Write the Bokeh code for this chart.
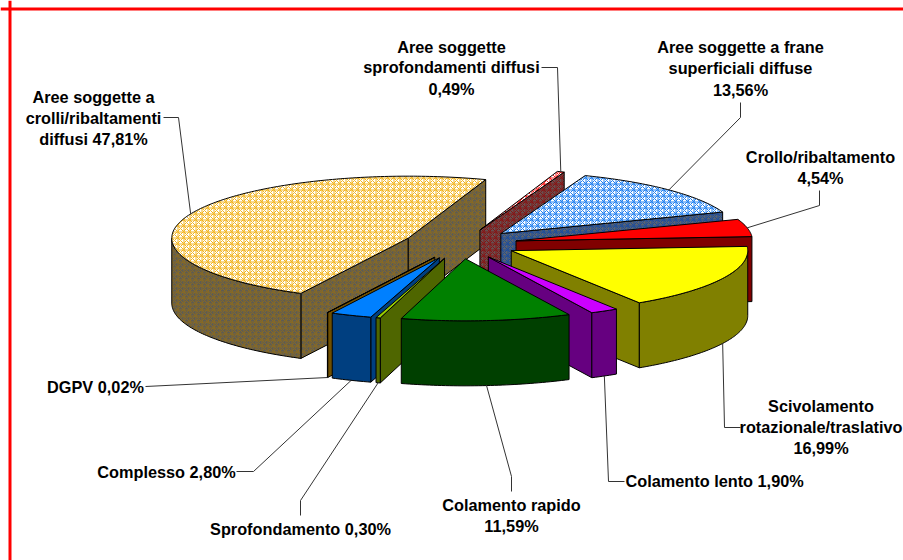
import math
from bokeh.plotting import figure
from bokeh.models import ColumnDataSource, Range1d, Span
from bokeh.core.properties import value
from bokeh.embed import file_html
from bokeh.resources import INLINE

# ---------- data ----------
names = ["Aree soggette a crolli/ribaltamenti diffusi", "Aree soggette sprofondamenti diffusi",
         "Aree soggette a frane superficiali diffuse", "Crollo/ribaltamento",
         "Scivolamento rotazionale/traslativo", "Colamento lento", "Colamento rapido",
         "Sprofondamento", "Complesso", "DGPV"]
percent = [47.81, 0.49, 13.56, 4.54, 16.99, 1.90, 11.59, 0.30, 2.80, 0.02]
top_color = ["#FFFFFF", "#FFFFFF", "#FFFFFF", "#FF0000", "#FFFF00", "#CC00FF", "#008000", "#99CC00", "#0080FF", "#806000"]
side_color = ["#5E5C54", "#665050", "#5C646E", "#800000", "#808000", "#660080", "#004000", "#4F6600", "#003F80", "#705000"]
top_hatch = ["#F2B41E", "#FF1A1A", "#2080F0", None, None, None, None, None, None, None]
side_hatch = ["#8A6A20", "#861414", "#1C4C9C", None, None, None, None, None, None, None]
label_lines = [
    ["Aree soggette a", "crolli/ribaltamenti", "diffusi 47,81%"],
    ["Aree soggette", "sprofondamenti diffusi", "0,49%"],
    ["Aree soggette a frane", "superficiali diffuse", "13,56%"],
    ["Crollo/ribaltamento", "4,54%"],
    ["Scivolamento", "rotazionale/traslativo", "16,99%"],
    ["Colamento lento 1,90%"],
    ["Colamento rapido", "11,59%"],
    ["Sprofondamento 0,30%"],
    ["Complesso 2,80%"],
    ["DGPV 0,02%"],
]

# ---------- layout ----------
CX, CY, RX, RY, DEPTH, EXPLODE, START = 460.0, 243.5, 236.5, 62.0, 65.0, 0.24, 207.0
PAINT_ORDER = [0, 1, 2, 3, 4, 9, 8, 7, 5, 6]
label_x = [93, 451, 740, 820, 820.5, 625, 511, 300, 166, 95]
label_y = [[96, 117, 138], [46, 66, 88], [46, 67, 89], [156, 177], [405, 426, 447],
           [480], [504, 525], [528], [471], [386]]
label_align = ["center"] * 5 + ["left"] + ["center"] * 4
leader_tail = [[(178, 117), (163, 117)], [(557, 67), (541, 67)], [(740, 117), (740, 102)],
               [(819, 205), (819, 190)], [(724, 427), (740, 427)], [(608, 481), (624, 481)],
               [(511, 476), (511, 491)], [(300, 500), (300, 515)], [(253, 471), (236, 471)],
               [(145, 386)]]

p = figure(width=903, height=560, output_backend="svg", toolbar_location=None,
           x_axis_type=None, y_axis_type=None, min_border=0, outline_line_color=None,
           x_range=Range1d(0, 903), y_range=Range1d(560, 0))
p.grid.visible = False

spans = [v * 3.6 for v in percent]
bounds = []
a = START
for s in spans:
    bounds.append((a, a + s))
    a += s


def point(i, theta, r=1.0, z=0.0):
    t = math.radians(theta)
    m = math.radians(sum(bounds[i]) / 2)
    return (CX + RX * (r * math.sin(t) + EXPLODE * math.sin(m)),
            CY - RY * (r * math.cos(t) + EXPLODE * math.cos(m)) + z)


def arc(i, t0, t1):
    n = max(2, int(abs(t1 - t0)) + 2)
    return [point(i, t0 + (t1 - t0) * k / (n - 1)) for k in range(n)]


polys = {k: [] for k in ("xs", "ys", "fill", "hatch", "hcol")}


def add(pts, fill, hcol):
    polys["xs"].append([q[0] for q in pts])
    polys["ys"].append([q[1] for q in pts])
    polys["fill"].append(fill)
    polys["hatch"].append("criss_cross" if hcol else "blank")
    polys["hcol"].append(hcol or fill)


def radial_wall(i, t):
    a_top, o_top = point(i, t, 0.0), point(i, t, 1.0)
    return [a_top, o_top, (o_top[0], o_top[1] + DEPTH), (a_top[0], a_top[1] + DEPTH)]


for i in PAINT_ORDER:
    t0, t1 = bounds[i]
    if math.cos(math.radians(t0 - 90)) < 0:
        add(radial_wall(i, t0), side_color[i], side_hatch[i])
    if math.cos(math.radians(t1 + 90)) < 0:
        add(radial_wall(i, t1), side_color[i], side_hatch[i])
    for k in (-360, 0, 360):
        lo, hi = max(t0, 90 + k), min(t1, 270 + k)
        if hi > lo:
            edge = arc(i, lo, hi)
            add(edge + [(q[0], q[1] + DEPTH) for q in reversed(edge)], side_color[i], side_hatch[i])
    add([point(i, t0, 0.0)] + arc(i, t0, t1), top_color[i], top_hatch[i])

p.patches("xs", "ys", source=ColumnDataSource(polys), fill_color="fill", line_color="#000000",
          line_width=1, hatch_pattern="hatch", hatch_color="hcol", hatch_scale=6, hatch_weight=1,
          hatch_alpha=1.0)

# leader lines start at the outer middle of each slice
for i in range(len(percent)):
    mid = sum(bounds[i]) / 2
    sx, sy = point(i, mid)
    if 90 < mid % 360 < 270:
        sy += DEPTH
    pts = [(sx, sy)] + leader_tail[i]
    p.line([q[0] for q in pts], [q[1] for q in pts], line_color="#333333", line_width=1)

for i, lines in enumerate(label_lines):
    for line, y in zip(lines, label_y[i]):
        p.text([label_x[i]], [y], text=[line], text_font=value("Liberation Sans"), text_font_style="bold",
               text_font_size="16.3px", text_color="#000000", text_align=label_align[i], text_baseline="middle")

p.add_layout(Span(location=9.5, dimension="height", line_color="#FF0000", line_width=3))
p.add_layout(Span(location=8.5, dimension="width", line_color="#FF0000", line_width=3))

open("out.html", "w").write(file_html(p, INLINE))
